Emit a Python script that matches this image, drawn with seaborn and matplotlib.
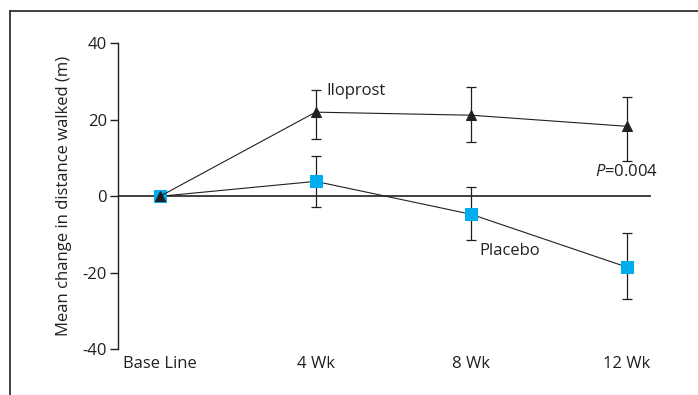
import numpy as np
import matplotlib
matplotlib.use("Agg")
import matplotlib.pyplot as plt
from matplotlib.lines import Line2D
import seaborn as sns

weeks = ["Base Line", "4 Wk", "8 Wk", "12 Wk"]
iloprost_mean = [0, 22.0, 21.2, 18.3]
iloprost_lo = [np.nan, 15.1, 14.2, 9.2]
iloprost_hi = [np.nan, 27.7, 28.6, 26.0]
placebo_mean = [0, 3.9, -4.7, -18.5]
placebo_lo = [np.nan, -2.8, -11.3, -26.8]
placebo_hi = [np.nan, 10.5, 2.4, -9.6]

ink = "#231f20"
cyan = "#00aeef"

sns.set_style("white")
plt.rcParams['font.family'] = ['Open Sans', 'DejaVu Sans']
plt.rcParams['mathtext.fontset'] = 'custom'
plt.rcParams['mathtext.it'] = 'Open Sans:italic'
plt.rcParams['mathtext.rm'] = 'Open Sans'
plt.rcParams['axes.unicode_minus'] = False
plt.rcParams['text.color'] = ink
plt.rcParams['axes.labelcolor'] = ink
plt.rcParams['xtick.color'] = ink
plt.rcParams['ytick.color'] = ink

fs = 12

fig = plt.figure(figsize=(6.98, 3.95), dpi=100)
ax = fig.add_axes([118 / 698, 1 - 349.3 / 395, (650.7 - 118) / 698, (349.3 - 43.3) / 395])

x = np.arange(len(weeks))

ax.axhline(0, color=ink, lw=1.2, zorder=1)

# error bars first, markers on top
for mean, lo, hi in [(placebo_mean, placebo_lo, placebo_hi), (iloprost_mean, iloprost_lo, iloprost_hi)]:
    mean = np.array(mean)
    err = np.vstack([mean - np.array(lo), np.array(hi) - mean])
    ax.errorbar(x, mean, yerr=err, fmt="none", ecolor=ink, elinewidth=0.9,
                capsize=3.8, capthick=0.9, zorder=2)

sns.lineplot(x=x, y=placebo_mean, ax=ax, color=ink, lw=0.8, marker="s",
             markersize=8, markerfacecolor=cyan, markeredgecolor=cyan, zorder=3)
sns.lineplot(x=x, y=iloprost_mean, ax=ax, color=ink, lw=0.8, marker="^",
             markersize=6.5, markerfacecolor=ink, markeredgecolor=ink, zorder=4)

ax.set_xlim(-0.27, 3.154)
ax.set_ylim(-40, 40)
ax.set_yticks([-40, -20, 0, 20, 40])
ax.set_xticks(x)
ax.set_xticklabels(weeks)

for s in ["top", "right", "bottom"]:
    ax.spines[s].set_visible(False)
ax.spines["left"].set_color(ink)
ax.spines["left"].set_linewidth(1.0)
ax.tick_params(axis="y", length=6, width=1.0, pad=2, labelsize=fs, left=True)
ax.tick_params(axis="x", length=0, pad=5, labelsize=fs)

ax.set_ylabel("Mean change in distance walked (m)", fontsize=fs)
ax.yaxis.set_label_coords(-0.086, 0.5)

ax.text(1.07, 27.6, "Iloprost", fontsize=fs, va="center", ha="left")
ax.text(3.0, 6.3, r"$\mathit{P}$=0.004", fontsize=fs, va="center", ha="center")
ax.text(2.05, -14.2, "Placebo", fontsize=fs, va="center", ha="left")

# frame around the figure (top and left edges only visible)
fx = 9.7 / 698
fy = 1 - 10.7 / 395
fig.add_artist(Line2D([fx, fx], [0, fy], transform=fig.transFigure, color=ink, lw=1.2))
fig.add_artist(Line2D([fx, 1], [fy, fy], transform=fig.transFigure, color=ink, lw=1.2))

fig.savefig("out.png", dpi=100)
